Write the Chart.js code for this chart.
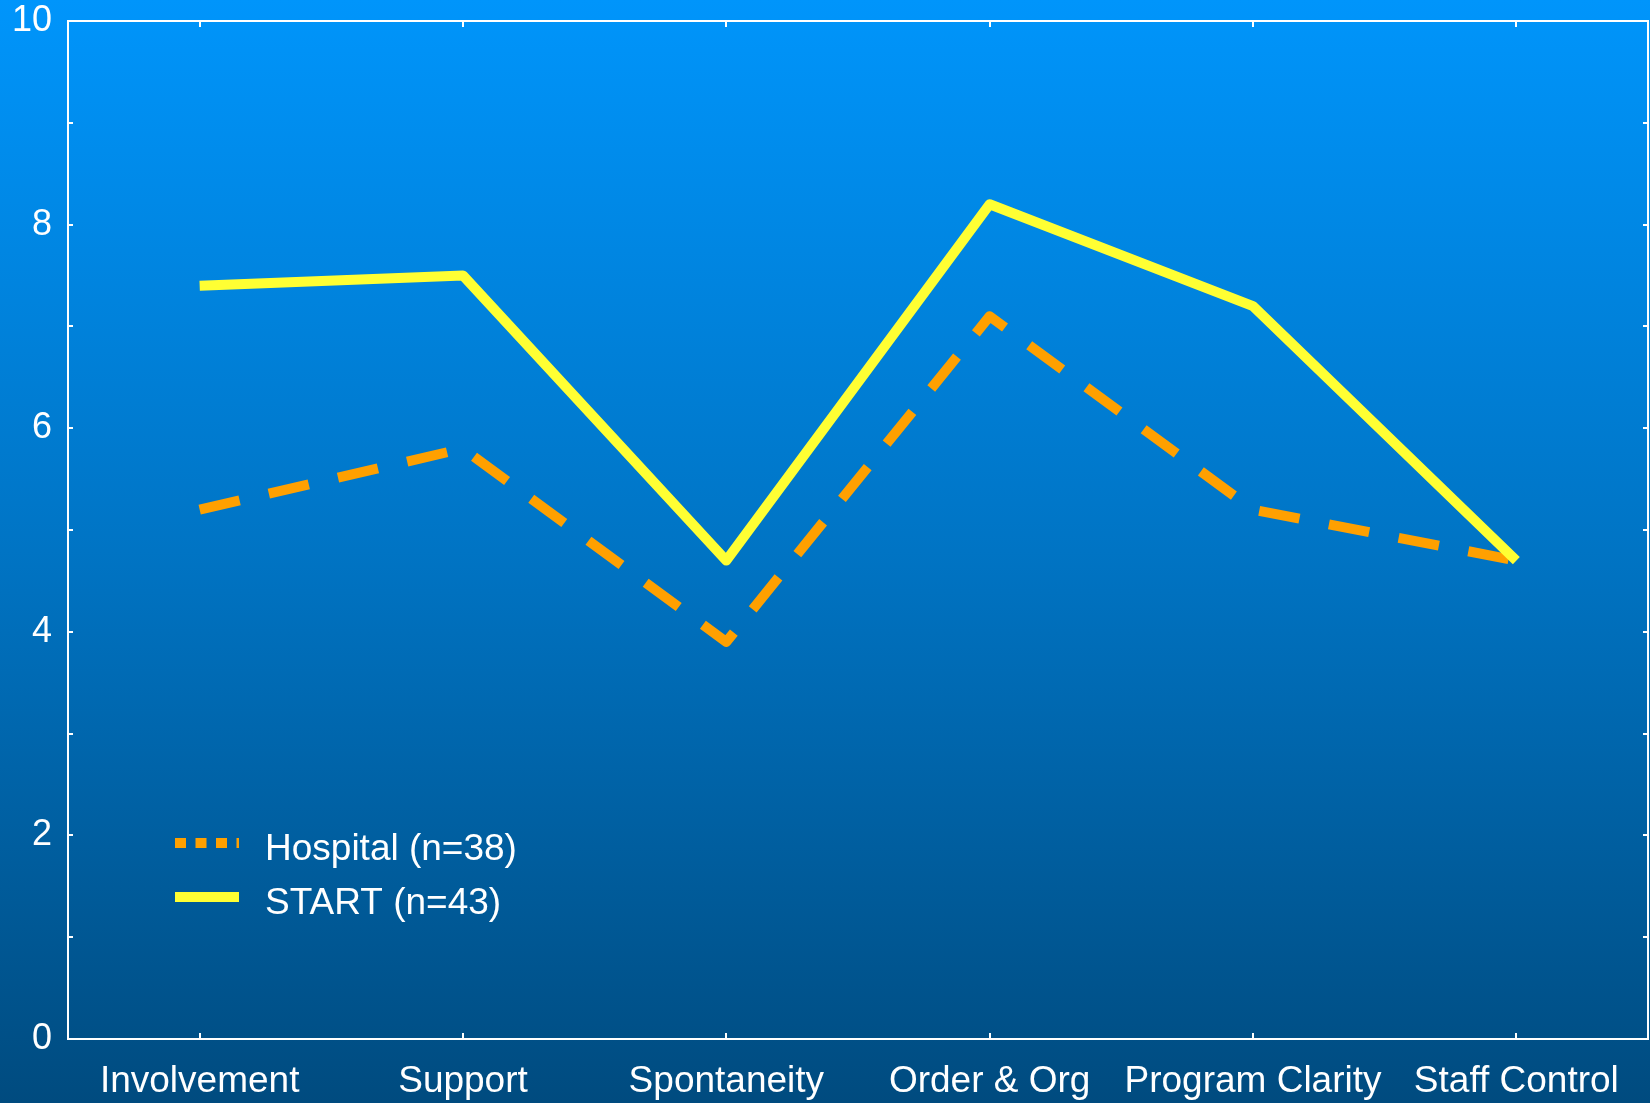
<!DOCTYPE html>
<html>
<head>
<meta charset="utf-8">
<title>Ward atmosphere subscales</title>
<script src="https://cdn.jsdelivr.net/npm/chart.js@4"></script>
<style>
  html, body { margin: 0; padding: 0; background: #004c80; }
  #wrap { width: 1650px; height: 1103px; }
</style>
</head>
<body>
<div id="wrap"><canvas id="chart" width="1650" height="1103"></canvas></div>
<script>
// Subscale categories along the x axis
const categories = ['Involvement', 'Support', 'Spontaneity', 'Order & Org', 'Program Clarity', 'Staff Control'];

// Mean subscale scores per group
const hospitalScores = [5.2, 5.8, 3.9, 7.1, 5.2, 4.7];
const startScores = [7.4, 7.5, 4.7, 8.2, 7.2, 4.7];

// Series names
const hospitalLabel = 'Hospital (n=38)';
const startLabel = 'START (n=43)';

// Value axis range; labels only on even steps
const yMin = 0;
const yMax = 10;
const yLabelled = [0, 2, 4, 6, 8, 10];

const FONT = "'Liberation Sans', Arial, sans-serif";
const WHITE = '#ffffff';
const ORANGE = '#ffa000';
const YELLOW = '#ffff33';

// Full-canvas vertical blue gradient
const backgroundPlugin = {
  id: 'blueBackground',
  beforeDraw(chart) {
    const { ctx, width, height } = chart;
    const g = ctx.createLinearGradient(0, 0, 0, height);
    g.addColorStop(0, 'rgb(0,149,251)');
    g.addColorStop(0.5, 'rgb(0,116,196)');
    g.addColorStop(1, 'rgb(0,75,127)');
    ctx.save();
    ctx.fillStyle = g;
    ctx.fillRect(0, 0, width, height);
    ctx.restore();
  }
};

// Boxed frame with small inward tick marks on all four sides
const framePlugin = {
  id: 'frame',
  afterDatasetsDraw(chart) {
    const { ctx, chartArea: a, scales } = chart;
    const xs = scales.x, ys = scales.y;
    ctx.save();
    ctx.strokeStyle = WHITE;
    ctx.lineWidth = 2;
    ctx.beginPath();
    ys.ticks.forEach((t, i) => {
      const y = Math.round(ys.getPixelForTick(i));
      ctx.moveTo(a.left, y); ctx.lineTo(a.left + 5, y);
      ctx.moveTo(a.right, y); ctx.lineTo(a.right - 5, y);
    });
    xs.ticks.forEach((t, i) => {
      const x = Math.round(xs.getPixelForTick(i));
      ctx.moveTo(x, a.top); ctx.lineTo(x, a.top + 6);
      ctx.moveTo(x, a.bottom); ctx.lineTo(x, a.bottom - 6);
    });
    ctx.stroke();
    ctx.strokeRect(a.left, a.top, a.right - a.left, a.bottom - a.top);
    ctx.restore();
  }
};

// Legend drawn inside the plot, lower left
const legendPlugin = {
  id: 'innerLegend',
  afterDatasetsDraw(chart) {
    const { ctx } = chart;
    const rows = [843, 897];
    const x0 = 175, x1 = 239, tx = 265;
    ctx.save();
    chart.data.datasets.forEach((ds, i) => {
      const y = rows[i];
      ctx.beginPath();
      ctx.strokeStyle = ds.borderColor;
      ctx.lineWidth = ds.borderWidth;
      ctx.lineCap = 'butt';
      ctx.setLineDash(ds.legendDash || []);
      ctx.moveTo(x0, y);
      ctx.lineTo(x1, y);
      ctx.stroke();
      ctx.setLineDash([]);
      ctx.fillStyle = WHITE;
      ctx.font = '37px ' + FONT;
      ctx.textBaseline = 'middle';
      ctx.textAlign = 'left';
      ctx.fillText(ds.label, tx, y + 7);
    });
    ctx.restore();
  }
};

new Chart(document.getElementById('chart'), {
  type: 'line',
  data: {
    labels: categories,
    datasets: [
      {
        label: hospitalLabel,
        data: hospitalScores,
        borderColor: ORANGE,
        borderWidth: 10,
        borderDash: [41, 30],
        legendDash: [11, 9.5],
        borderCapStyle: 'butt',
        borderJoinStyle: 'round',
        pointRadius: 0,
        tension: 0,
        fill: false,
        order: 1
      },
      {
        label: startLabel,
        data: startScores,
        borderColor: YELLOW,
        borderWidth: 10,
        borderCapStyle: 'butt',
        borderJoinStyle: 'round',
        pointRadius: 0,
        tension: 0,
        fill: false,
        order: 0
      }
    ]
  },
  options: {
    responsive: false,
    animation: false,
    devicePixelRatio: 1,
    layout: { padding: { top: 21, right: 2, left: 0, bottom: 0 } },
    plugins: {
      legend: { display: false },
      tooltip: { enabled: false },
      title: { display: false }
    },
    scales: {
      x: {
        type: 'category',
        offset: true,
        grid: { display: false, drawTicks: false },
        border: { display: false },
        ticks: {
          color: WHITE,
          font: { family: FONT, size: 37 },
          padding: 21,
          maxRotation: 0,
          autoSkip: false
        },
        afterFit(scale) {
          scale.height = 64;
          scale.paddingLeft = 0;
          scale.paddingRight = 0;
        }
      },
      y: {
        min: yMin,
        max: yMax,
        grid: { display: false, drawTicks: false },
        border: { display: false },
        ticks: {
          stepSize: 1,
          color: WHITE,
          font: { family: FONT, size: 36 },
          padding: 16,
          callback: (v) => (yLabelled.includes(v) ? String(v) : '')
        },
        afterFit(scale) {
          scale.width = 68;
          scale.paddingTop = 0;
          scale.paddingBottom = 0;
        }
      }
    }
  },
  plugins: [backgroundPlugin, framePlugin, legendPlugin]
});
</script>
</body>
</html>
